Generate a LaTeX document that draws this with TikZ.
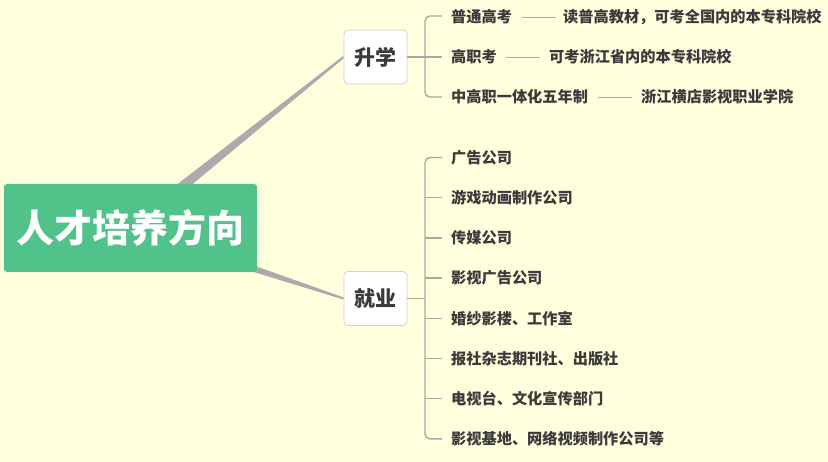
\documentclass[tikz,border=0pt]{standalone}
\usepackage{fontspec}
\newfontfamily\cjk{Noto Sans CJK SC}
\usetikzlibrary{calc}
\pgfdeclarelayer{bglayer}
\pgfdeclarelayer{branchlayer}
\pgfsetlayers{bglayer,branchlayer,main}
\definecolor{bg}{HTML}{FFFFDE}
\definecolor{rootgreen}{HTML}{50C28A}
\definecolor{txt}{HTML}{3A3A3A}
\definecolor{branch}{HTML}{ABABAB}
\definecolor{brk}{HTML}{A8A8A8}
\tikzset{
  rootbox/.style={fill=rootgreen, rounded corners=3pt, minimum width=253pt, minimum height=88pt, inner sep=0pt, text=white, font=\cjk\bfseries\fontsize{38}{40}\selectfont},
  midbox/.style={fill=white, draw=black!18, line width=0.8pt, rounded corners=4pt, minimum width=63pt, minimum height=54pt, inner sep=0pt, text=txt, font=\cjk\bfseries\fontsize{21}{23}\selectfont},
  leaf/.style={anchor=west, inner sep=0pt, text=txt, font=\cjk\bfseries\fontsize{15.2}{17}\selectfont},
  brack/.style={draw=brk, line width=1.4pt, rounded corners=5pt},
  dashline/.style={draw=brk, line width=0.9pt},
}
\begin{document}
\begin{tikzpicture}[x=1pt,y=-1pt]
\begin{pgfonlayer}{bglayer}
\fill[bg] (0,0) rectangle (828,462);
\end{pgfonlayer}
\useasboundingbox (0,0) rectangle (828,462);
% main nodes
\node[rootbox] (root) at (130.5,228) {人才培养方向};
\node[midbox] (sx) at (375.5,57) {升学};
\node[midbox] (jy) at (375.5,298.5) {就业};
% tapered branches (behind nodes)
\begin{pgfonlayer}{branchlayer}
\fill[branch] ($(root.center)!6pt!90:(sx.west)$) -- ($(sx.west)!1pt!-90:(root.center)$) -- ($(sx.west)!1pt!90:(root.center)$) -- ($(root.center)!6pt!-90:(sx.west)$) -- cycle;
\fill[branch] ($(root.center)!6pt!90:(jy.west)$) -- ($(jy.west)!1pt!-90:(root.center)$) -- ($(jy.west)!1pt!90:(root.center)$) -- ($(root.center)!6pt!-90:(jy.west)$) -- cycle;
\end{pgfonlayer}
% 升学 leaves
\node[leaf] (a1) at (451,17) {普通高考};
\node[leaf] (a2) at (451,57) {高职考};
\node[leaf] (a3) at (451,97) {中高职一体化五年制};
\node[leaf] (b1) at (563,17) {读普高教材，可考全国内的本专科院校};
\node[leaf] (b2) at (549,57) {可考浙江省内的本专科院校};
\node[leaf] (b3) at (641,97) {浙江横店影视职业学院};
\draw[dashline] ([xshift=10pt]a1.east) -- ([xshift=-7pt]b1.west);
\draw[dashline] ([xshift=9pt]a2.east) -- ([xshift=-9pt]b2.west);
\draw[dashline] ([xshift=10pt]a3.east) -- ([xshift=-9pt]b3.west);
\coordinate (j1) at (425,57);
\coordinate (s1) at (442,16);
\coordinate (s2) at (442,57);
\coordinate (s3) at (442,97);
\draw[brack] (sx.east) -- (j1);
\draw[brack] (s1) -| (j1) |- (s3);
\draw[brack] (j1) -- (s2);
% 就业 leaves
\foreach \i/\t [evaluate=\i as \yy using 157.5+40.2*(\i-1)] in {1/广告公司,2/游戏动画制作公司,3/传媒公司,4/影视广告公司,5/婚纱影楼、工作室,6/报社杂志期刊社、出版社,7/电视台、文化宣传部门,8/影视基地、网络视频制作公司等}{
  \node[leaf] (c\i) at (451,\yy) {\t};
  \coordinate (t\i) at (442,\yy);
}
\coordinate (j2) at (425,298.5);
\draw[brack] (jy.east) -- (j2);
\draw[brack] (t1) -| (j2) |- (t8);
\foreach \i in {2,...,7}{
  \draw[brack] (t\i -| j2) -- (t\i);
}
\end{tikzpicture}
\end{document}
